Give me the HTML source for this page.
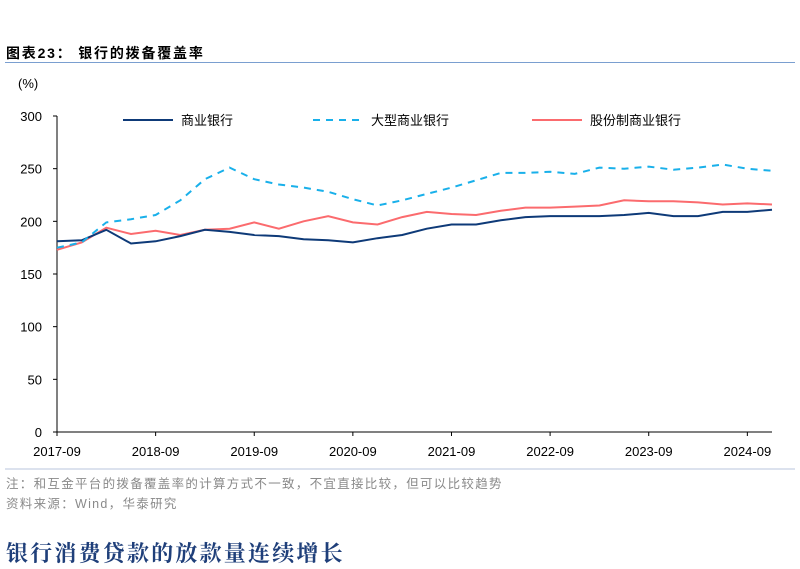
<!DOCTYPE html>
<html><head><meta charset="utf-8">
<style>
body{margin:0;width:800px;height:569px;background:#fff;overflow:hidden;position:relative;font-family:"Liberation Sans","Noto Sans CJK SC",sans-serif;}
.abs{position:absolute;white-space:nowrap;}
</style></head><body>
<div class="abs" style="left:6px;top:43px;font-size:14px;font-weight:bold;color:#000;letter-spacing:1.8px;">图表23：&nbsp;银行的拨备覆盖率</div>
<div class="abs" style="left:5px;top:62px;width:790px;height:1px;background:#7a9fd0;"></div>
<svg class="abs" style="left:0;top:0" width="800" height="569" font-family="Liberation Sans, Noto Sans CJK SC, sans-serif">
<g id="axes"></g><g id="series"></g><g id="legend"></g>
</svg>
<div class="abs" style="left:6px;top:473px;font-size:12.5px;color:#8a8a8a;letter-spacing:1.3px;">注：和互金平台的拨备覆盖率的计算方式不一致，不宜直接比较，但可以比较趋势</div>
<div class="abs" style="left:6px;top:493px;font-size:12.5px;color:#8a8a8a;letter-spacing:1.3px;">资料来源：Wind，华泰研究</div>
<div class="abs" style="left:6px;top:537px;font-size:22px;font-weight:bold;color:#1f3f7a;font-family:'Noto Serif CJK SC',serif;letter-spacing:2.2px;">银行消费贷款的放款量连续增长</div>
<script>
const yTicks=[0,50,100,150,200,250,300];
const xTickLabels=["2017-09","2018-09","2019-09","2020-09","2021-09","2022-09","2023-09","2024-09"];
const seriesNames=["商业银行","大型商业银行","股份制商业银行"];
const commercial=[181,182,192,179,181,186,192,190,187,186,183,182,180,184,187,193,197,197,201,204,205,205,205,206,208,205,205,209,209,211];
const large=[175,180,199,202,206,220,240,251,240,235,232,228,221,215,220,226,232,239,246,246,247,245,251,250,252,249,251,254,250,248];
const joint=[173,180,194,188,191,187,192,193,199,193,200,205,199,197,204,209,207,206,210,213,213,214,215,220,219,219,218,216,217,216];
const NS="http://www.w3.org/2000/svg";
const X0=57,X1=772,Y0=432,Y1=116;
const n=commercial.length;
const xs=i=>X0+(X1-X0)*i/(n-1);
const ys=v=>Y0-(Y0-Y1)*v/300;
function mk(t,a,p){const e=document.createElementNS(NS,t);for(const k in a)e.setAttribute(k,a[k]);p.appendChild(e);return e;}
const axes=document.getElementById('axes');
const ax1=mk('line',{x1:X0,y1:Y1,x2:X0,y2:Y0,stroke:'#000','stroke-width':1},axes);


const ax2=mk('line',{x1:X0,y1:Y0,x2:X1,y2:Y0,stroke:'#000','stroke-width':1},axes);


yTicks.forEach(v=>{
 mk('line',{x1:X0-4,y1:ys(v),x2:X0,y2:ys(v),stroke:'#000'},axes);
 const t=mk('text',{x:X0-15,y:ys(v)+5,'text-anchor':'end','font-size':13},axes);t.textContent=v;
 
 
});
const yu=mk('text',{x:18,y:88,'font-size':13},axes);yu.textContent='(%)';


xTickLabels.forEach((l,k)=>{
 const x=xs(k*4);
 mk('line',{x1:x,y1:Y0,x2:x,y2:Y0+4,stroke:'#000'},axes);
 const t=mk('text',{x:x,y:456,'text-anchor':'middle','font-size':13},axes);t.textContent=l;
 
 
});
const sep=mk('line',{x1:5,y1:469,x2:795,y2:469,stroke:'#b8c6dc'},axes);


const styles=[{c:'#0e3a78',d:''},{c:'#19b0ea',d:'7,6'},{c:'#fb6b6e',d:''}];
const data=[commercial,large,joint];
const ser=document.getElementById('series');
[2,0,1].forEach(s=>{
 const pts=data[s].map((v,i)=>xs(i).toFixed(1)+','+ys(v).toFixed(1)).join(' ');
 const p=mk('polyline',{points:pts,fill:'none',stroke:styles[s].c,'stroke-width':2,'stroke-dasharray':styles[s].d},ser);
 
 
});
const lg=document.getElementById('legend');
const lx=[123,313,532];
seriesNames.forEach((nm,s)=>{
 mk('line',{x1:lx[s],y1:120,x2:lx[s]+50,y2:120,stroke:styles[s].c,'stroke-width':2,'stroke-dasharray':styles[s].d},lg);
 const t=mk('text',{x:lx[s]+58,y:125,'font-size':13},lg);t.textContent=nm;
 
 
});
</script>
</body></html>
